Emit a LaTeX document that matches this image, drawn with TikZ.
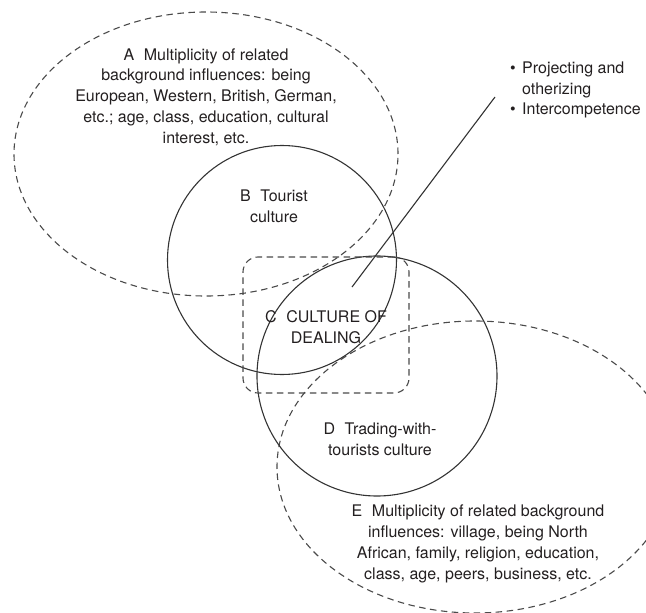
\documentclass[tikz,border=0pt]{standalone}
\usepackage{fontspec}
\setmainfont{TeX Gyre Heros}
\usetikzlibrary{shapes.geometric}
\definecolor{inkline}{HTML}{333333}
\definecolor{dashline}{HTML}{4A4A4A}
\definecolor{inktext}{HTML}{231F20}
\tikzset{
  solidring/.style={draw=inkline, line width=1.1pt, circle, inner sep=0pt, outer sep=0pt},
  dashring/.style={draw=dashline, line width=1.1pt, dash pattern=on 6.5pt off 4.5pt, ellipse, inner sep=0pt, outer sep=0pt},
  dashbox/.style={draw=dashline, line width=1.1pt, dash pattern=on 6.5pt off 4.5pt, rectangle, rounded corners=15pt, inner sep=0pt, outer sep=0pt},
  lbl/.style={text=inktext, align=center, font=\fontsize{16}{20.8}\selectfont, inner sep=0pt},
  bul/.style={text=inktext, align=left, font=\fontsize{16}{20.8}\selectfont, inner sep=0pt, anchor=west},
}
\newcommand{\gapA}{\hspace{0.6em}}
\newcommand{\bulmark}{\makebox[12pt][l]{\textbullet}}
\begin{document}
\begin{tikzpicture}[x=1pt,y=-1pt]
\useasboundingbox (0,0) rectangle (646,613);
\clip (0,0) rectangle (646,613);
% shapes
\node[dashring, minimum width=384pt, minimum height=284pt] (A) at (206,154) {};
\node[dashring, minimum width=396pt, minimum height=292pt] (E) at (475,467) {};
\node[solidring, minimum size=229pt] (B) at (282,260) {};
\node[solidring, minimum size=240pt] (D) at (377,376) {};
\node[dashbox, minimum width=166pt, minimum height=136pt] (C) at (326,325) {};
% line
\coordinate (lineS) at (352,287);
\coordinate (lineT) at (495,97);
\draw[inkline, line width=1.1pt] (lineS) -- (lineT);
% labels
\node[lbl] (tA) at (206,97) {A\gapA Multiplicity of related\\background influences: being\\European, Western, British, German,\\etc.; age, class, education, cultural\\interest, etc.};
\node[lbl] (tB) at (274,206) {B\gapA Tourist\\culture};
\node[lbl] (tC) at (326,327) {C\gapA CULTURE OF\\DEALING};
\node[lbl] (tD) at (380,439) {D\gapA Trading-with-\\tourists culture};
\node[lbl] (tE) at (478,544) {E\gapA Multiplicity of related background\\influences: village, being North\\African, family, religion, education,\\class, age, peers, business, etc.};
\node[bul] (tF) at (510,90) {\bulmark Projecting and\\\hphantom{\bulmark}otherizing\\\bulmark Intercompetence};
\end{tikzpicture}
\end{document}
